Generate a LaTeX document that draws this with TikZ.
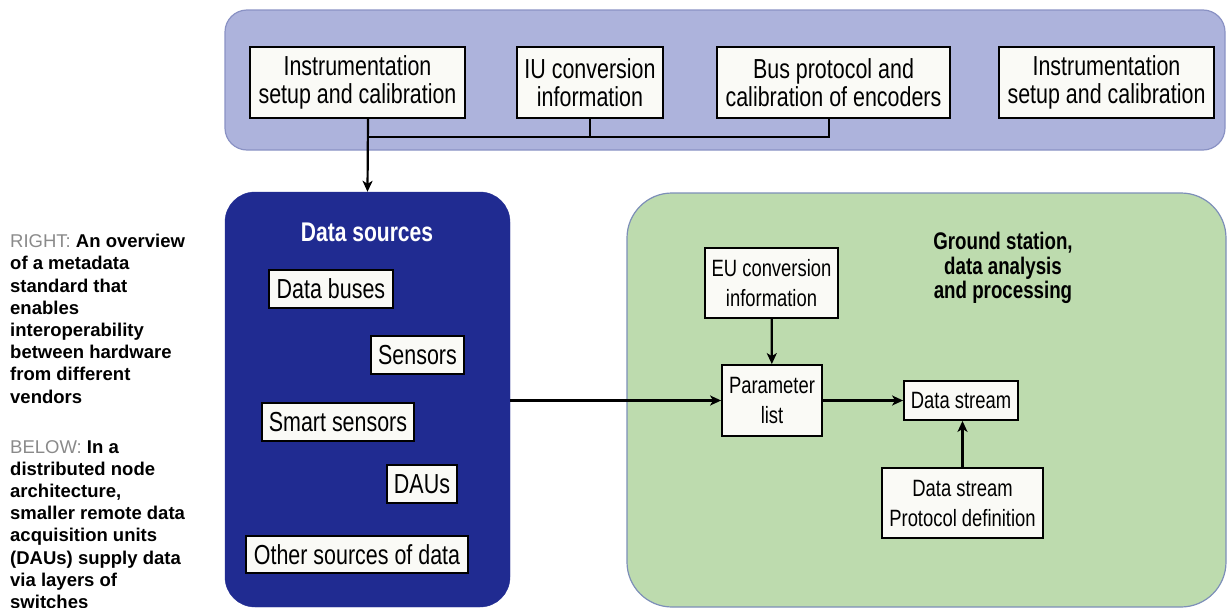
\documentclass[tikz,border=0pt]{standalone}
\usepackage{fontspec}
\setmainfont{Liberation Sans}
\newfontfamily\narrowfont[FakeStretch=0.78]{Liberation Sans}
\usepackage{xcolor}
\usetikzlibrary{arrows.meta, positioning}

\definecolor{toplav}{RGB}{173,179,220}
\definecolor{toplavline}{RGB}{138,146,196}
\definecolor{srcblue}{RGB}{32,43,145}
\definecolor{gsgreen}{RGB}{189,219,174}
\definecolor{gsline}{RGB}{125,143,184}
\definecolor{boxwhite}{RGB}{250,250,246}
\definecolor{capgray}{RGB}{138,138,138}

\begin{document}
\begin{tikzpicture}[x=1pt, y=-1pt,
    infobox/.style={draw=black, line width=1.8pt, fill=boxwhite, align=center, inner sep=0pt,
        font=\narrowfont\fontsize{27.5}{28}\selectfont},
    gsbox/.style={infobox, font=\narrowfont\fontsize{23.6}{30}\selectfont},
    link/.style={line width=2.2pt},
    flow/.style={link, -{Stealth[length=11pt, width=10pt, inset=3pt]}},
    caption/.style={align=left, inner sep=0pt, anchor=north west,
        font=\bfseries\fontsize{18.5}{22.2}\selectfont}]
        \useasboundingbox (0,0) rectangle (1227,608);

        % panels
        \node[draw=toplavline, line width=1.2pt, fill=toplav, rounded corners=22pt,
              minimum width=1000, minimum height=140] (meta) at (725,80) {};
        \node[draw=srcblue, fill=srcblue, rounded corners=30pt,
              minimum width=285, minimum height=415] (sources) at (367.5,399.5) {};
        \node[draw=gsline, line width=1.2pt, fill=gsgreen, rounded corners=45pt,
              minimum width=599, minimum height=414] (ground) at (926.5,400) {};

        % top row
        \node[infobox, minimum width=215, minimum height=71] (setupL) at (357.5,82.5) {Instrumentation\\setup and calibration};
        \node[infobox, minimum width=146, minimum height=71] (iuconv) at (590,82.5) {IU conversion\\information};
        \node[infobox, minimum width=233, minimum height=71] (busproto) at (833.5,82.5) {Bus protocol and\\calibration of encoders};
        \node[infobox, minimum width=215, minimum height=71] (setupR) at (1106.5,82.5) {Instrumentation\\setup and calibration};

        % data sources
        \node[text=white, font=\narrowfont\bfseries\fontsize{27}{28}\selectfont] (srctitle) at (367,232) {Data sources};
        \node[infobox, minimum width=124, minimum height=38] (buses) at (331,289) {Data buses};
        \node[infobox, minimum width=93, minimum height=38] (sensors) at (417.5,355) {Sensors};
        \node[infobox, minimum width=152, minimum height=38] (smart) at (338,422) {Smart sensors};
        \node[infobox, minimum width=70, minimum height=38] (daus) at (422,484) {DAUs};
        \node[infobox, minimum width=222, minimum height=37] (other) at (357,554.5) {Other sources of data};

        % ground station
        \node[align=center, font=\narrowfont\bfseries\fontsize{24}{24.5}\selectfont] (gstitle) at (1003,268) {Ground station,\\data analysis\\and processing};
        \node[gsbox, minimum width=133, minimum height=70] (euconv) at (771.5,283) {EU conversion\\information};
        \node[gsbox, minimum width=100, minimum height=71] (param) at (772,400.5) {Parameter\\list};
        \node[gsbox, minimum width=114, minimum height=39] (stream) at (961,400.5) {Data stream};
        \node[gsbox, minimum width=161, minimum height=70] (protocol) at (962.5,503) {Data stream\\Protocol definition};

        % connectors
        \coordinate (junction) at (368,137);
        \draw[link] ([xshift=-4.5]busproto.south) |- (junction);
        \draw[link] (iuconv.south) -- (iuconv.south |- junction);
        \draw[flow] ([xshift=10.5]setupL.south) -- (sources.north);
        \draw[flow] (sources.east |- param.west) -- (param.west);
        \draw[flow] (euconv) -- (param);
        \draw[flow] (param) -- (stream);
        \draw[flow] (protocol.north) -- (protocol.north |- stream.south);

        % captions
        \node[caption] (capright) at (10,234) {\textcolor{capgray}{\mdseries RIGHT:} An overview\\of a metadata\\standard that\\enables\\interoperability\\between hardware\\from different\\vendors};
        \node[caption] (capbelow) at (10,440) {\textcolor{capgray}{\mdseries BELOW:} In a\\distributed node\\architecture,\\smaller remote data\\acquisition units\\(DAUs) supply data\\via layers of\\switches};
\end{tikzpicture}
\end{document}
